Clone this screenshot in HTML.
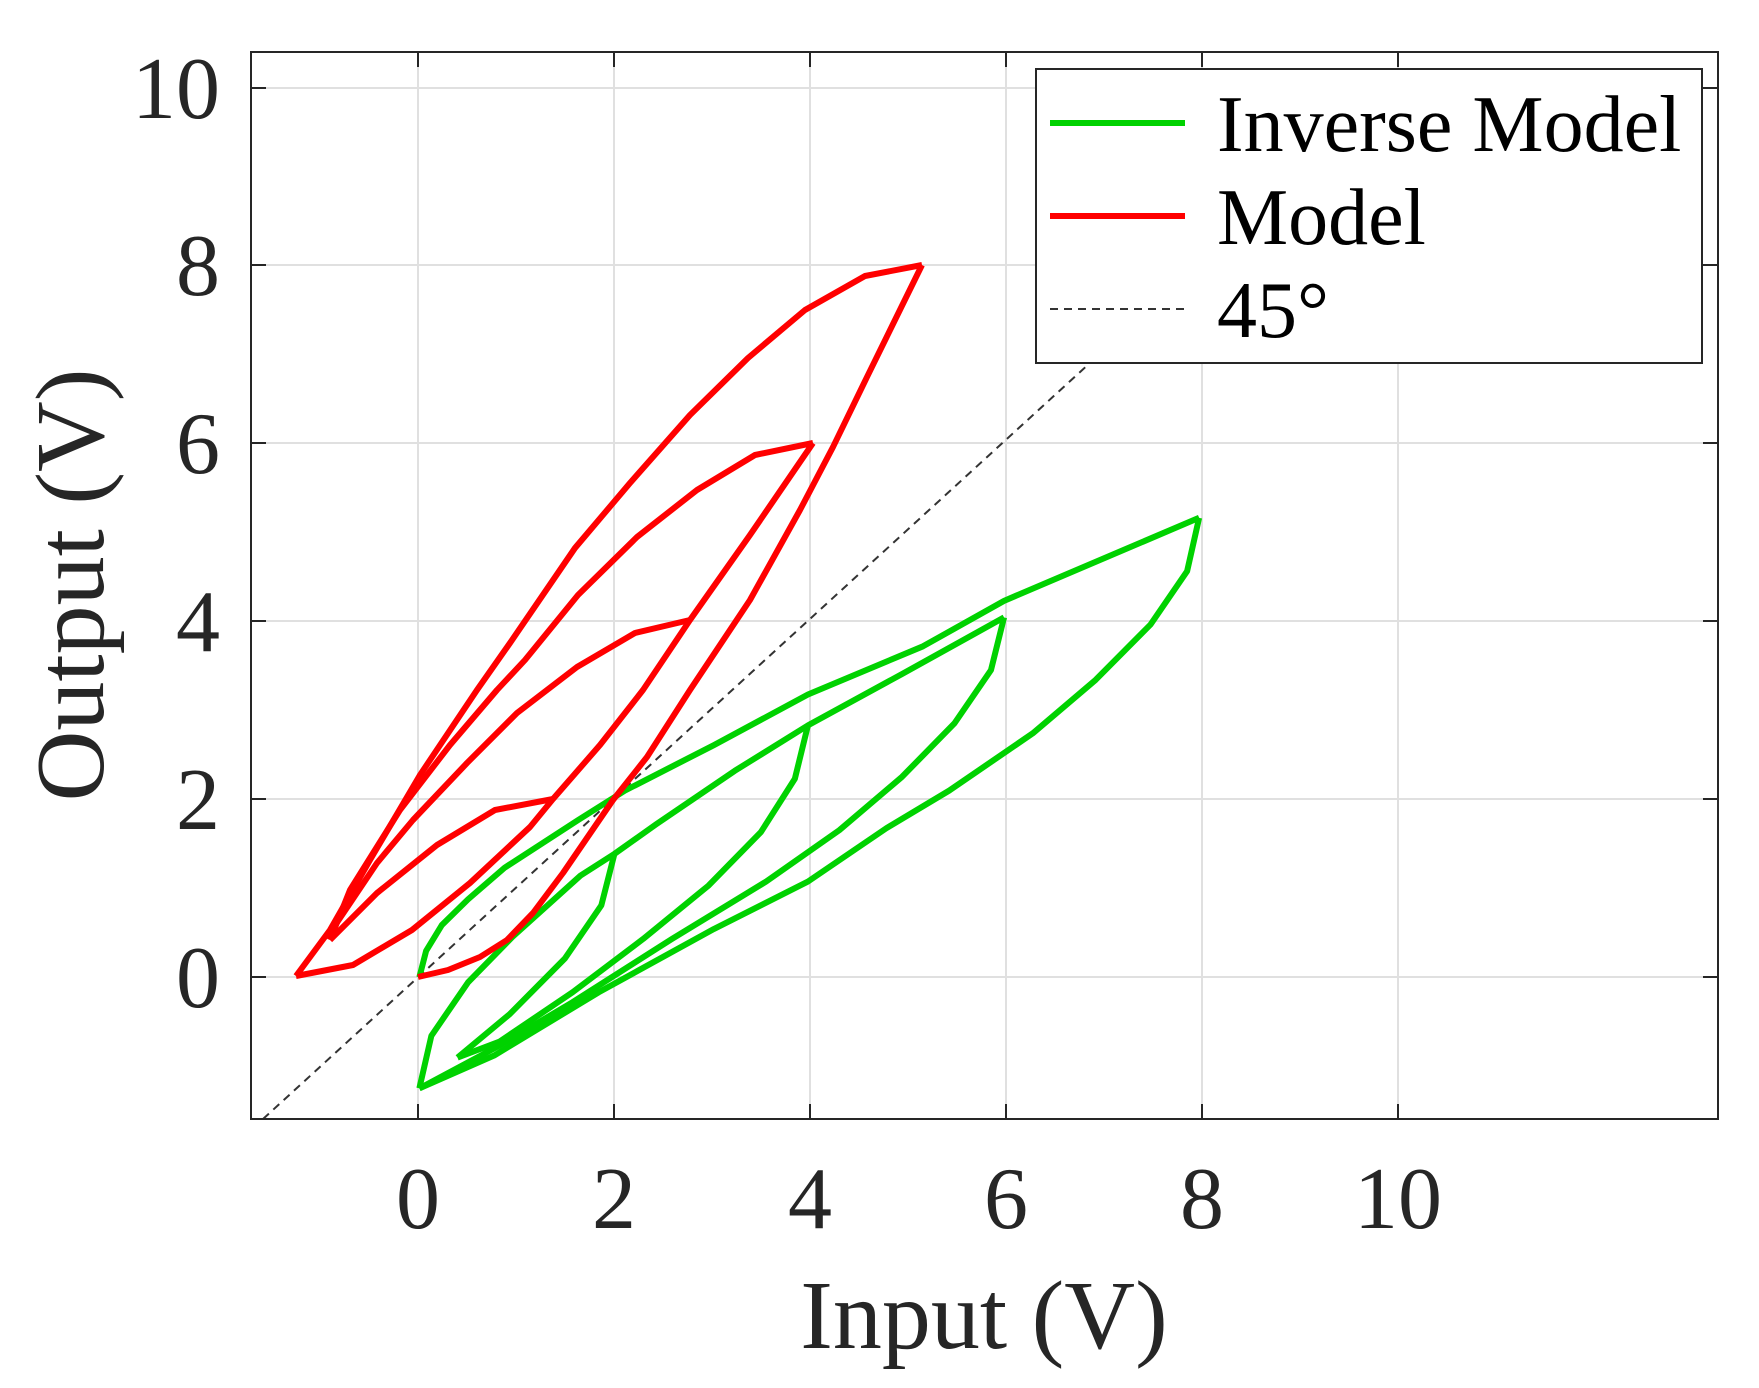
<!DOCTYPE html>
<html><head><meta charset="utf-8"><style>
html,body{margin:0;padding:0;background:#fff;}
svg{display:block;}
text{font-family:"Liberation Serif",serif;fill:#262626;}
</style></head><body>
<svg width="1759" height="1388" viewBox="0 0 1759 1388" xmlns="http://www.w3.org/2000/svg">
<rect width="1759" height="1388" fill="#fff"/>
<g stroke="#e0e0e0" stroke-width="2">
<line x1="418" y1="52" x2="418" y2="1119"/>
<line x1="614" y1="52" x2="614" y2="1119"/>
<line x1="810" y1="52" x2="810" y2="1119"/>
<line x1="1006" y1="52" x2="1006" y2="1119"/>
<line x1="1202" y1="52" x2="1202" y2="1119"/>
<line x1="1398" y1="52" x2="1398" y2="1119"/>
<line x1="251" y1="977" x2="1718" y2="977"/>
<line x1="251" y1="799" x2="1718" y2="799"/>
<line x1="251" y1="621" x2="1718" y2="621"/>
<line x1="251" y1="443" x2="1718" y2="443"/>
<line x1="251" y1="265" x2="1718" y2="265"/>
<line x1="251" y1="88" x2="1718" y2="88"/>
</g>
<line x1="263" y1="1119" x2="1091" y2="362" stroke="#333" stroke-width="2" stroke-dasharray="8,6"/>
<g transform="translate(400,500) scale(0.523,0.3954)" fill="none" stroke="#00d200" stroke-width="6" stroke-linejoin="round">
<polyline vector-effect="non-scaling-stroke" points="37,1207 50,1140 80,1075 130,1010 200,930 340,810 430,735 600,620 780,492 1000,370 1155,255 1528,45"/>
<polyline vector-effect="non-scaling-stroke" points="1528,45 1505,180 1435,315 1330,455 1210,590 1050,735 930,830 780,965 600,1085 380,1245 180,1405 37,1488"/>
<polyline vector-effect="non-scaling-stroke" points="37,1488 60,1355 130,1220 215,1105 345,950 410,895 490,820 640,685 780,570 960,440 1155,297"/>
<polyline vector-effect="non-scaling-stroke" points="410,895 385,1025 315,1160 210,1300 110,1410"/>
<polyline vector-effect="non-scaling-stroke" points="780,570 755,705 690,840 590,975 465,1110 330,1245 190,1370 110,1410"/>
<polyline vector-effect="non-scaling-stroke" points="1155,297 1130,430 1060,565 960,700 840,835 700,965 520,1110 330,1270 190,1380 37,1488"/>
</g>
<g fill="none" stroke="#ff0000" stroke-width="6" stroke-linejoin="round">
<polyline points="418,977 448,970 480,957 507,940 533,913 563,873 613,800 647,757 690,690 750,600 800,510 833,447 867,377 922,265"/>
<polyline points="922,265 865,276 805,310 748,358 690,415 630,483 575,548 510,643 477,690 420,775 370,860 330,930 296,976"/>
<polyline points="296,976 353,965 412,930 470,883 530,827 553,799 600,745 643,690 690,620 750,535 813,443"/>
<polyline points="813,443 755,455 697,490 637,537 578,595 525,660 497,690 450,745 400,810 350,890 330,940"/>
<polyline points="690,620 635,633 577,667 517,713 467,763 413,820 377,863 330,933"/>
<polyline points="553,799 495,810 437,845 377,893 330,940"/>
</g>
<rect x="251" y="52" width="1467" height="1067" fill="none" stroke="#262626" stroke-width="2"/>
<g stroke="#262626" stroke-width="2">
<path d="M418,1119v-15M614,1119v-15M810,1119v-15M1006,1119v-15M1202,1119v-15M1398,1119v-15"/>
<path d="M418,52v15M614,52v15M810,52v15M1006,52v15M1202,52v15M1398,52v15"/>
<path d="M251,977h15M251,799h15M251,621h15M251,443h15M251,265h15M251,88h15"/>
<path d="M1718,977h-15M1718,799h-15M1718,621h-15M1718,443h-15M1718,265h-15M1718,88h-15"/>
</g>
<g font-size="88" text-anchor="end">
<text x="220" y="1007">0</text>
<text x="220" y="829">2</text>
<text x="220" y="651">4</text>
<text x="220" y="473">6</text>
<text x="220" y="295">8</text>
<text x="220" y="118">10</text>
</g>
<g font-size="88" text-anchor="middle">
<text x="418" y="1228">0</text>
<text x="614" y="1228">2</text>
<text x="810" y="1228">4</text>
<text x="1006" y="1228">6</text>
<text x="1202" y="1228">8</text>
<text x="1398" y="1228">10</text>
</g>
<text x="984" y="1348" font-size="98" text-anchor="middle">Input (V)</text>
<text transform="translate(103,585) rotate(-90)" font-size="98" text-anchor="middle">Output (V)</text>
<rect x="1036" y="69" width="666" height="294" fill="#fff" stroke="#262626" stroke-width="2"/>
<line x1="1050" y1="123" x2="1185" y2="123" stroke="#00d200" stroke-width="6"/>
<line x1="1050" y1="216" x2="1185" y2="216" stroke="#ff0000" stroke-width="6"/>
<line x1="1050" y1="309" x2="1185" y2="309" stroke="#333" stroke-width="2" stroke-dasharray="8,6"/>
<g font-size="80">
<text x="1217" y="151" style="fill:#000">Inverse Model</text>
<text x="1217" y="244" style="fill:#000">Model</text>
<text x="1217" y="337" style="fill:#000">45°</text>
</g>
</svg>
</body></html>
